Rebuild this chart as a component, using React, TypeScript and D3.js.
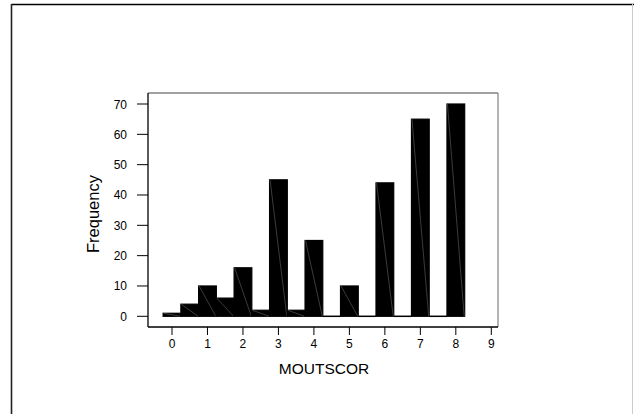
import { scaleLinear } from "d3";

const binCenters = [0, 0.5, 1, 1.5, 2, 2.5, 3, 3.5, 4, 4.5, 5, 5.5, 6, 6.5, 7, 7.5, 8];
const frequencies = [1, 4, 10, 6, 16, 2, 45, 2, 25, 0, 10, 0, 44, 0, 65, 0, 70];
const xTicks = [0, 1, 2, 3, 4, 5, 6, 7, 8, 9];
const yTicks = [0, 10, 20, 30, 40, 50, 60, 70];
const binWidth = 0.5;

const W = 634;
const H = 414;
const frame = { left: 148, top: 93, right: 498, bottom: 327 };
const font = "'Liberation Sans', Arial, sans-serif";

export default function App() {
  const x = scaleLinear().domain([0, 9]).range([172, 491.3]);
  const y = scaleLinear().domain([0, 70]).range([316.3, 104]);

  return (
    <svg
      width={W}
      height={H}
      style={{ position: "absolute", left: 0, top: 0, background: "#fff" }}
      fontFamily={font}
    >
      {/* outer page border */}
      <line x1={11.5} y1={4.5} x2={W} y2={4.5} stroke="#000" strokeWidth={1.6} />
      <line x1={11.5} y1={4} x2={11.5} y2={H} stroke="#222" strokeWidth={1.6} />
      <line x1={632.5} y1={4} x2={632.5} y2={H} stroke="#ccc" strokeWidth={1} />

      {/* plot frame */}
      <line x1={frame.left} y1={frame.top} x2={frame.right} y2={frame.top} stroke="#444" strokeWidth={1} />
      <line x1={frame.right} y1={frame.top} x2={frame.right} y2={frame.bottom} stroke="#666" strokeWidth={1} />
      <line x1={frame.left} y1={frame.top} x2={frame.left} y2={frame.bottom} stroke="#000" strokeWidth={1.3} />
      <line x1={frame.left} y1={frame.bottom} x2={frame.right} y2={frame.bottom} stroke="#000" strokeWidth={1.3} />

      {/* y axis */}
      {yTicks.map((t) => (
        <g key={"y" + t}>
          <line x1={137} x2={frame.left} y1={y(t)} y2={y(t)} stroke="#000" strokeWidth={1} />
          <text x={127} y={y(t) + 4.5} fontSize={12} textAnchor="end" fill="#000">
            {t}
          </text>
        </g>
      ))}
      <text
        transform={`translate(99, 214) rotate(-90)`}
        fontSize={16.5}
        textAnchor="middle"
        fill="#000"
      >
        Frequency
      </text>

      {/* x axis */}
      {xTicks.map((t) => (
        <g key={"x" + t}>
          <line x1={x(t)} x2={x(t)} y1={frame.bottom} y2={335} stroke="#000" strokeWidth={1} />
          <text x={x(t)} y={347.5} fontSize={12} textAnchor="middle" fill="#000">
            {t}
          </text>
        </g>
      ))}
      <text x={324} y={373.5} fontSize={15.5} textAnchor="middle" fill="#000">
        MOUTSCOR
      </text>

      {/* bars */}
      {binCenters.map((c, i) => {
        const x0 = x(c - binWidth / 2);
        const x1 = x(c + binWidth / 2);
        const yTop = y(frequencies[i]);
        const y0 = y(0);
        if (frequencies[i] === 0) {
          return (
            <line key={"b" + i} x1={x0} x2={x1} y1={y0} y2={y0} stroke="#000" strokeWidth={1.5} />
          );
        }
        return (
          <g key={"b" + i}>
            <rect
              x={x0}
              y={yTop}
              width={x1 - x0}
              height={y0 - yTop}
              fill="#000"
              stroke="#000"
              strokeWidth={1.2}
            />
            <line x1={x0 + 0.5} y1={yTop} x2={x1 - 0.5} y2={y0} stroke="#777" strokeWidth={0.5} />
          </g>
        );
      })}
    </svg>
  );
}
